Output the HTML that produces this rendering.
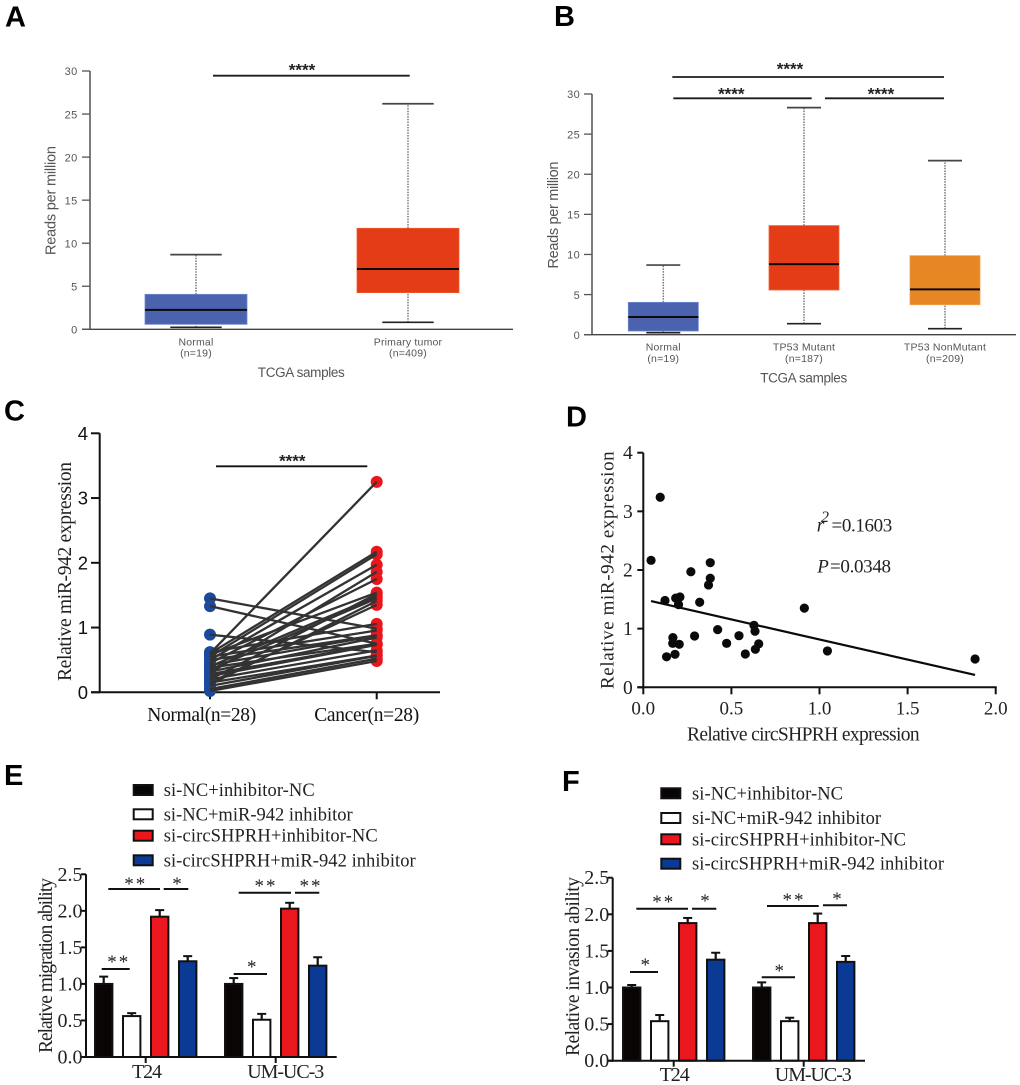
<!DOCTYPE html>
<html lang="en">
<head>
<meta charset="utf-8">
<title>Figure panels A–F</title>
<style>
html,body{margin:0;padding:0;background:#fff;}
#figure{display:block;width:1020px;height:1085px;filter:blur(.3px);}
.sans{font-family:"Liberation Sans",sans-serif;}
.serif{font-family:"Liberation Serif",serif;}
</style>
</head>
<body>
<svg id="figure" xmlns="http://www.w3.org/2000/svg" width="1020" height="1085" viewBox="0 0 1020 1085">
  <rect width="1020" height="1085" fill="#fff"/>
  <g class="sans" font-weight="700" font-size="29" fill="#000">
    <text x="5" y="26.7">A</text>
    <text x="554" y="26">B</text>
    <text x="4" y="420.7">C</text>
    <text x="566" y="426.3">D</text>
    <text x="4" y="785">E</text>
    <text x="562" y="791">F</text>
  </g>
  <g id="panel-a"></g>
  <g id="panel-b"></g>
  <g id="panel-c"></g>
  <g id="panel-d"></g>
  <g id="panel-e"></g>
  <g id="panel-f"></g>
</svg>
<script>
// ---------- Panel A / B data: [whisker low, Q1, median, Q3, whisker high]
const boxTicks = [0, 5, 10, 15, 20, 25, 30];
const aCategories = ["Normal", "Primary tumor"];
const aCounts = ["(n=19)", "(n=409)"];
const aNormal = [0.23, 0.58, 2.25, 4.06, 8.67];
const aTumor = [0.81, 4.26, 7.0, 11.73, 26.2];
const bCategories = ["Normal", "TP53 Mutant", "TP53 NonMutant"];
const bCounts = ["(n=19)", "(n=187)", "(n=209)"];
const bNormal = [0.25, 0.46, 2.2, 4.03, 8.68];
const bMutant = [1.37, 5.57, 8.8, 13.6, 28.3];
const bNonMutant = [0.75, 3.74, 5.65, 9.85, 21.7];

// ---------- Panel C data
const cTicks = [0, 1, 2, 3, 4];
const cCategories = ["Normal(n=28)", "Cancer(n=28)"];
const cNormal = [0.6,0.6,0.55,0.5,0.3,0.45,0.58,0.2,0.4,0.35,0.12,0.15,0.62,1.45,0.55,0.5,0.42,0.32,1.33,0.38,0.28,0.25,0.2,0.89,0.15,0.1,0.05,0.02];
const cCancer = [3.25,2.17,2.13,1.97,1.86,1.75,1.54,1.52,1.48,1.45,1.41,1.35,1.057,0.983,0.955,0.88,0.875,0.847,0.75,0.75,0.74,0.733,0.648,0.62,0.568,0.5625,0.52,0.483];

// ---------- Panel D data
const dXTicks = ["0.0", "0.5", "1.0", "1.5", "2.0"];
const dYTicks = [0, 1, 2, 3, 4];
const dX = [0.044,0.096,0.27,0.38,0.38,0.37,0.208,0.184,0.2,0.123,0.32,0.914,0.628,0.634,0.422,0.291,0.543,0.168,0.167,0.204,0.473,0.655,0.636,0.579,0.18,0.132,1.045,1.883];
const dY = [2.165,3.24,1.97,2.125,1.86,1.745,1.54,1.52,1.41,1.48,1.45,1.35,1.057,0.955,0.983,0.875,0.88,0.847,0.75,0.733,0.75,0.74,0.648,0.568,0.5625,0.52,0.62,0.483];
const regressionX = [0.044, 1.883];
const regressionY = [1.47, 0.21];

// ---------- Panels E / F data
const barTicks = ["0.0", "0.5", "1.0", "1.5", "2.0", "2.5"];
const barGroups = ["T24", "UM-UC-3"];
const legendLabels = ["si-NC+inhibitor-NC", "si-NC+miR-942 inhibitor", "si-circSHPRH+inhibitor-NC", "si-circSHPRH+miR-942 inhibitor"];
const seriesColors = ["#0a0505", "#ffffff", "#ea181e", "#0b3a94"];
const eT24 = [1.0, 0.56, 1.92, 1.31];
const eT24Top = [1.10, 0.60, 2.01, 1.38];
const eUM = [1.0, 0.51, 2.03, 1.25];
const eUMTop = [1.08, 0.59, 2.11, 1.365];
const fT24 = [1.0, 0.54, 1.88, 1.38];
const fT24Top = [1.034, 0.624, 1.95, 1.475];
const fUM = [1.0, 0.54, 1.88, 1.35];
const fUMTop = [1.07, 0.587, 2.01, 1.43];

// ---------- Helpers
const NS = "http://www.w3.org/2000/svg";
function panel(id){ return document.getElementById(id); }
function ln(parent, x1, y1, x2, y2, stroke, width, name, dash){
  const el = document.createElementNS(NS, "line");
  el.setAttribute("x1", x1); el.setAttribute("y1", y1);
  el.setAttribute("x2", x2); el.setAttribute("y2", y2);
  el.setAttribute("stroke", stroke); el.setAttribute("stroke-width", width);
  if (dash) el.setAttribute("stroke-dasharray", dash);
  
  
  parent.appendChild(el);
  return el;
}
function box(parent, x, y, w, h, fill, stroke, sw, name){
  const el = document.createElementNS(NS, "rect");
  el.setAttribute("x", x); el.setAttribute("y", y);
  el.setAttribute("width", w); el.setAttribute("height", h);
  el.setAttribute("fill", fill);
  if (stroke) { el.setAttribute("stroke", stroke); el.setAttribute("stroke-width", sw); }
  
  
  parent.appendChild(el);
  return el;
}
function dot(parent, cx, cy, r, fill, name){
  const el = document.createElementNS(NS, "circle");
  el.setAttribute("cx", cx); el.setAttribute("cy", cy); el.setAttribute("r", r);
  el.setAttribute("fill", fill);
  
  
  parent.appendChild(el);
  return el;
}
// style: family, size, fill, anchor, weight, italic, len (textLength), rotate (deg), spacing
function txt(parent, x, y, str, style, name){
  const el = document.createElementNS(NS, "text");
  el.setAttribute("x", x); el.setAttribute("y", y);
  el.setAttribute("font-family", style.family === "sans" ? '"Liberation Sans",sans-serif' : '"Liberation Serif",serif');
  el.setAttribute("font-size", style.size);
  el.setAttribute("fill", style.fill || "#111");
  el.setAttribute("text-anchor", style.anchor || "start");
  if (style.weight) el.setAttribute("font-weight", style.weight);
  if (style.italic) el.setAttribute("font-style", "italic");
  if (style.spacing) el.setAttribute("letter-spacing", style.spacing);
  if (style.len) { el.setAttribute("textLength", style.len); el.setAttribute("lengthAdjust", "spacing"); }
  if (style.rotate) el.setAttribute("transform", "rotate(" + style.rotate + " " + x + " " + y + ")");
  el.textContent = str;
  
  
  parent.appendChild(el);
  return el;
}
function linear(d0, d1, r0, r1){ return v => r0 + (v - d0) * (r1 - r0) / (d1 - d0); }

// ---------- Box plots
function drawBoxAxes(g, y, axisX, axisRight, tickLabelX, ticks){
  ln(g, axisX, y(30), axisX, y(0), "#666", 1.7, "y-axis");
  ln(g, axisX - 8, y(0), axisRight, y(0), "#444", 1.4, "x-axis");
  ticks.forEach(t => {
    ln(g, axisX - 8, y(t), axisX, y(t), "#555", 1.3, "y-tick-" + t);
    txt(g, tickLabelX, y(t) + 4.2, String(t), {family:"sans", size:11, fill:"#555", anchor:"end", spacing:0.3}, "y-tick-label-" + t);
  });
}
function drawBox(g, cx, y, halfBox, halfCap, stats, color, edge, label){
  const [lo, q1, med, q3, hi] = stats;
  ln(g, cx, y(q3), cx, y(hi), "#777", 1.5, label + "-upper-whisker", "1.5 1.2");
  ln(g, cx, y(lo), cx, y(q1), "#777", 1.5, label + "-lower-whisker", "1.5 1.2");
  ln(g, cx - halfCap, y(hi), cx + halfCap, y(hi), "#444", 1.7, label + "-upper-cap");
  ln(g, cx - halfCap, y(lo), cx + halfCap, y(lo), "#222", 1.7, label + "-lower-cap");
  box(g, cx - halfBox, y(q3), halfBox * 2, y(q1) - y(q3), color, edge, 0.8, label + "-box");
  ln(g, cx - halfBox, y(med), cx + halfBox, y(med), "#0a0a0a", 2, label + "-median");
}
function drawBoxLabels(g, centers, names, counts, y1, y2){
  centers.forEach((cx, i) => {
    txt(g, cx, y1, names[i], {family:"sans", size:10.5, fill:"#555", anchor:"middle", spacing:0.2}, "x-label-" + i);
    txt(g, cx, y2, counts[i], {family:"sans", size:10.5, fill:"#555", anchor:"middle", spacing:0.2}, "x-count-" + i);
  });
}
function drawBoxBracket(g, x1, x2, y, starX, starY, name){
  ln(g, x1, y, x2, y, "#1c1c1c", 1.8, name + "-bar");
  txt(g, starX, starY, "****", {family:"sans", size:17, weight:700, fill:"#222", anchor:"middle"}, name + "-stars");
}

// Panel A
(function(){
  const g = panel("panel-a");
  const y = linear(0, 30, 329.3, 71);
  const cx = [196, 408];
  drawBoxAxes(g, y, 90, 513, 77.5, boxTicks);
  drawBox(g, cx[0], y, 51, 25.7, aNormal, "#4b63ae", "#6f86cf", "normal");
  drawBox(g, cx[1], y, 51, 25.7, aTumor, "#e43c16", "#ee5a30", "primary-tumor");
  drawBoxLabels(g, cx, aCategories, aCounts, 345.5, 356.5);
  drawBoxBracket(g, 213, 409.7, 75.7, 302, 75.5, "significance");
  txt(g, 301.3, 377, "TCGA samples", {family:"sans", size:13.5, fill:"#555", anchor:"middle", len:87}, "x-axis-title");
  txt(g, 55.5, 255, "Reads per million", {family:"sans", size:14.5, fill:"#555", rotate:-90, len:109}, "y-axis-title");
})();

// Panel B
(function(){
  const g = panel("panel-b");
  const y = linear(0, 30, 334.7, 94);
  const cx = [663.3, 804, 945];
  drawBoxAxes(g, y, 592, 1016, 580, boxTicks);
  drawBox(g, cx[0], y, 35, 17, bNormal, "#4b63ae", "#6f86cf", "normal");
  drawBox(g, cx[1], y, 35, 17, bMutant, "#e43c16", "#f0623a", "tp53-mutant");
  drawBox(g, cx[2], y, 35, 17, bNonMutant, "#e68724", "#f0a050", "tp53-nonmutant");
  drawBoxLabels(g, cx, bCategories, bCounts, 350.5, 362);
  drawBoxBracket(g, 672.3, 944, 77, 790, 74.5, "significance-normal-vs-nonmutant");
  drawBoxBracket(g, 673.3, 811.7, 98.3, 731.3, 99.5, "significance-normal-vs-mutant");
  drawBoxBracket(g, 825, 944, 98.3, 881, 99.5, "significance-mutant-vs-nonmutant");
  txt(g, 803.7, 382.5, "TCGA samples", {family:"sans", size:13.5, fill:"#555", anchor:"middle", len:87}, "x-axis-title");
  txt(g, 558, 268.5, "Reads per million", {family:"sans", size:14.5, fill:"#555", rotate:-90, len:107}, "y-axis-title");
})();

// Panel C
(function(){
  const g = panel("panel-c");
  const y = linear(0, 4, 692.3, 433.3);
  const xNormal = 210, xCancer = 376.7;
  ln(g, 99.7, y(4), 99.7, y(0), "#111", 2, "y-axis");
  ln(g, 91, y(0), 440, y(0), "#111", 2, "x-axis");
  cTicks.forEach(t => {
    ln(g, 91, y(t), 99.7, y(t), "#111", 2, "y-tick-" + t);
    txt(g, 88, y(t) + 6.5, String(t), {family:"sans", size:18.5, fill:"#111", anchor:"end"}, "y-tick-label-" + t);
  });
  ln(g, xNormal, y(0), xNormal, y(0) + 7, "#111", 2, "x-tick-normal");
  ln(g, xCancer, y(0), xCancer, y(0) + 7, "#111", 2, "x-tick-cancer");
  cNormal.forEach((v, i) => dot(g, xNormal, y(v), 6, "#1b4a9c", "normal-point-" + i));
  cCancer.forEach((v, i) => dot(g, xCancer, y(v), 6, "#e8171c", "cancer-point-" + i));
  cNormal.forEach((v, i) => ln(g, xNormal, y(v), xCancer, y(cCancer[i]), "#333", 2.3, "pair-line-" + i));
  txt(g, 201.7, 721, cCategories[0], {family:"serif", size:19.5, fill:"#111", anchor:"middle", len:109}, "x-label-normal");
  txt(g, 366.7, 721, cCategories[1], {family:"serif", size:19.5, fill:"#111", anchor:"middle", len:105}, "x-label-cancer");
  txt(g, 71, 681, "Relative miR-942 expression", {family:"serif", size:19.5, fill:"#222", rotate:-90, len:219}, "y-axis-title");
  ln(g, 216, 466.3, 367.3, 466.3, "#111", 1.8, "significance-bar");
  txt(g, 292.3, 466.5, "****", {family:"sans", size:17, weight:700, fill:"#222", anchor:"middle"}, "significance-stars");
})();

// Panel D
(function(){
  const g = panel("panel-d");
  const x = linear(0, 2, 643.3, 995.7);
  const y = linear(0, 4, 687.3, 452.7);
  ln(g, x(0), y(4), x(0), y(0) + 1, "#111", 2, "y-axis");
  ln(g, x(0) - 6, y(0), x(2) + 1, y(0), "#111", 2, "x-axis");
  dYTicks.forEach(t => {
    ln(g, x(0) - 6, y(t), x(0), y(t), "#111", 2, "y-tick-" + t);
    txt(g, 632.7, y(t) + 6.5, String(t), {family:"serif", size:19.5, fill:"#222", anchor:"end"}, "y-tick-label-" + t);
  });
  dXTicks.forEach(t => {
    ln(g, x(+t), y(0), x(+t), y(0) + 7, "#111", 2, "x-tick-" + t);
    txt(g, x(+t), 714.3, t, {family:"serif", size:19, fill:"#222", anchor:"middle"}, "x-tick-label-" + t);
  });
  dX.forEach((v, i) => dot(g, x(v), y(dY[i]), 4.6, "#0a0a0a", "scatter-point-" + i));
  ln(g, x(regressionX[0]), y(regressionY[0]), x(regressionX[1]), y(regressionY[1]), "#0a0a0a", 2.2, "regression-line");
  txt(g, 803.3, 740.7, "Relative circSHPRH expression", {family:"serif", size:19.5, fill:"#222", anchor:"middle", len:232.7}, "x-axis-title");
  txt(g, 613.5, 689, "Relative miR-942 expression", {family:"serif", size:19, fill:"#222", rotate:-90, len:237.7}, "y-axis-title");
  txt(g, 816.7, 531.7, "r", {family:"serif", size:19.5, fill:"#222", italic:true}, "r-squared-symbol");
  txt(g, 821, 522, "2", {family:"serif", size:16, fill:"#222", italic:true}, "r-squared-exponent");
  txt(g, 831.5, 531.7, "=0.1603", {family:"serif", size:19, fill:"#222", len:60.7}, "r-squared-value");
  txt(g, 817.3, 572.3, "P", {family:"serif", size:19, fill:"#222", italic:true}, "p-symbol");
  txt(g, 830, 572.3, "=0.0348", {family:"serif", size:19, fill:"#222", len:61}, "p-value");
})();

// ---------- Bar charts
function drawBarPanel(g, axisX, axisRight, y0, yTop, centers, groupValues, groupTops, groupLabelX, groupLabelY, legendX, legendTextX, legendY){
  const y = linear(0, 2.5, y0, yTop);
  groupValues.forEach((vals, gi) => {
    vals.forEach((v, si) => {
      const cx = centers[gi] + (si - 1.5) * 28;
      const key = barGroups[gi].toLowerCase() + "-series-" + si;
      ln(g, cx, y(groupTops[gi][si]), cx, y(v), "#111", 2.2, key + "-error-bar");
      ln(g, cx - 4.5, y(groupTops[gi][si]), cx + 4.5, y(groupTops[gi][si]), "#111", 2, key + "-error-cap");
      box(g, cx - 8.7, y(v), 17.4, y(0) - y(v), seriesColors[si], "#111", 2, key + "-bar");
    });
  });
  ln(g, axisX, yTop, axisX, y0 + 1, "#111", 2, "y-axis");
  ln(g, axisX - 4, y0, axisRight, y0, "#111", 2, "x-axis");
  barTicks.forEach(t => {
    ln(g, axisX - 5, y(+t), axisX, y(+t), "#111", 2, "y-tick-" + t);
    txt(g, axisX - 3.5, y(+t) + 6.5, t, {family:"serif", size:20, fill:"#222", anchor:"end"}, "y-tick-label-" + t);
  });
  centers.forEach((c, i) => {
    ln(g, c, y0, c, y0 + 6, "#111", 2, "x-tick-" + i);
    txt(g, groupLabelX[i], groupLabelY, barGroups[i], {family:"serif", size:20, fill:"#222", anchor:"middle", len: i === 0 ? 30 : 77}, "group-label-" + i);
  });
  legendLabels.forEach((l, i) => {
    box(g, legendX + 1, legendY[i] - 5, 19, 10, seriesColors[i], "#111", 2, "legend-swatch-" + i);
    txt(g, legendTextX, legendY[i] + 6, l, {family:"serif", size:18.5, fill:"#222", len: [151, 189, 214, 252][i]}, "legend-label-" + i);
  });
}
function sig(g, x1, x2, y, starX, starBase, stars, name){
  ln(g, x1, y, x2, y, "#111", 2, name + "-bar");
  txt(g, starX, starBase, stars, {family:"serif", size:19, fill:"#222", anchor:"middle", spacing: stars.length > 1 ? 2 : 0}, name + "-stars");
}

// Panel E
(function(){
  const g = panel("panel-e");
  drawBarPanel(g, 86, 336.7, 1057, 874.3, [145.7, 275.7], [eT24, eUM], [eT24Top, eUMTop], [147, 285.7], 1078, 132.7, 163.7, [790, 814.3, 835.7, 860.3]);
  txt(g, 52, 1053, "Relative migration ability", {family:"serif", size:19.5, fill:"#222", rotate:-90, len:175}, "y-axis-title");
  sig(g, 108.3, 160, 889, 135.7, 890, "**", "t24-si-nc-vs-si-circ");
  sig(g, 163.7, 188.3, 889, 177, 890, "*", "t24-si-circ-vs-rescue");
  sig(g, 101.7, 129.7, 969, 118.7, 968, "**", "t24-si-nc-vs-inhibitor");
  sig(g, 238.7, 291, 892.7, 266, 892, "**", "umuc3-si-nc-vs-si-circ");
  sig(g, 295, 319.3, 892.7, 311, 892, "**", "umuc3-si-circ-vs-rescue");
  sig(g, 233.7, 267, 974, 251.7, 973, "*", "umuc3-si-nc-vs-inhibitor");
})();

// Panel F
(function(){
  const g = panel("panel-f");
  drawBarPanel(g, 612.7, 865, 1060.7, 877.7, [673.7, 803.7], [fT24, fUM], [fT24Top, fUMTop], [674.7, 813.3], 1081, 660.3, 692, [793.3, 818, 839.3, 863.7]);
  txt(g, 579, 1056, "Relative invasion ability", {family:"serif", size:19.5, fill:"#222", rotate:-90, len:179}, "y-axis-title");
  sig(g, 636.3, 688, 908.7, 663.7, 908, "**", "t24-si-nc-vs-si-circ");
  sig(g, 692, 716.3, 908.7, 705, 907, "*", "t24-si-circ-vs-rescue");
  sig(g, 630, 658, 972, 645.3, 971, "*", "t24-si-nc-vs-inhibitor");
  sig(g, 767, 818.7, 906, 794, 906, "**", "umuc3-si-nc-vs-si-circ");
  sig(g, 823, 847, 905.3, 837, 905, "*", "umuc3-si-circ-vs-rescue");
  sig(g, 761.7, 795, 977.3, 779.3, 977, "*", "umuc3-si-nc-vs-inhibitor");
})();
</script>
</body>
</html>
